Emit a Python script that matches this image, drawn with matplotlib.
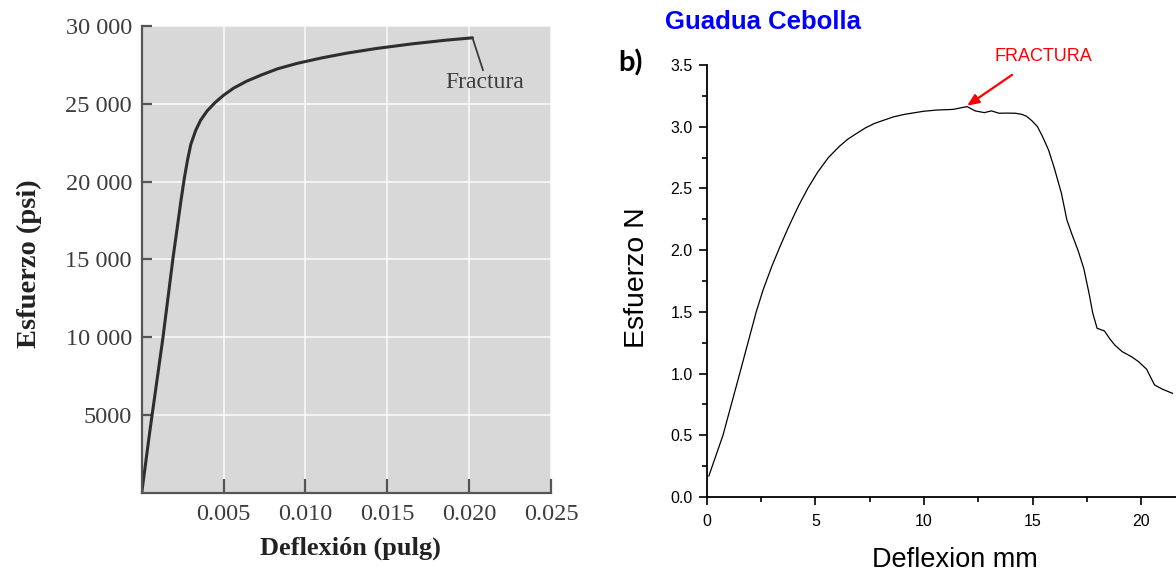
import matplotlib
matplotlib.use("Agg")
import matplotlib.pyplot as plt
from matplotlib.ticker import MultipleLocator, FixedLocator, FixedFormatter

# --- left panel: textbook stress/deflection curve ---
defl_in = [0, 0.0005, 0.0013, 0.0019, 0.0024, 0.0026, 0.0028, 0.0030, 0.0033,
           0.0036, 0.0040, 0.0045, 0.0050, 0.0056, 0.0064, 0.0073, 0.0083,
           0.0095, 0.0110, 0.0125, 0.0143, 0.0165, 0.0185, 0.0202]
stress_psi = [0, 4000, 10000, 15000, 18800, 20200, 21400, 22400, 23300,
              23950, 24550, 25100, 25550, 26000, 26450, 26850, 27250,
              27600, 27950, 28250, 28550, 28850, 29080, 29240]
left_yticks = [5000, 10000, 15000, 20000, 25000, 30000]
left_ylabels = ["5000", "10 000", "15 000", "20 000", "25 000", "30 000"]
left_xticks = [0.005, 0.010, 0.015, 0.020, 0.025]
left_xlabels = ["0.005", "0.010", "0.015", "0.020", "0.025"]

# --- right panel: Guadua Cebolla test ---
defl_mm = [0.1, 0.75, 1.52, 2.28, 2.6, 3.0, 3.4, 3.8, 4.23, 4.65, 5.1, 5.6,
           6.1, 6.5, 6.94, 7.3, 7.7, 8.1, 8.6, 9.1, 9.98, 10.6, 11.33, 11.98,
           12.35, 12.77, 13.10, 13.45, 13.8, 14.2, 14.5, 14.71, 14.95, 15.22,
           15.45, 15.73, 16.0, 16.32, 16.57, 16.8, 17.08, 17.35, 17.59, 17.76,
           17.96, 18.30, 18.55, 18.77, 19.11, 19.54, 19.87, 20.24, 20.60,
           20.97, 21.43]
force_n = [0.17, 0.50, 1.00, 1.50, 1.68, 1.87, 2.04, 2.20, 2.36, 2.50, 2.63,
           2.75, 2.84, 2.90, 2.95, 2.99, 3.025, 3.05, 3.08, 3.10, 3.125, 3.135,
           3.14, 3.163, 3.128, 3.114, 3.128, 3.109, 3.11, 3.109, 3.10, 3.085,
           3.05, 3.00, 2.92, 2.81, 2.66, 2.46, 2.245, 2.13, 2.00, 1.85, 1.65,
           1.49, 1.367, 1.345, 1.28, 1.232, 1.178, 1.137, 1.096, 1.035, 0.908,
           0.873, 0.84]
fract_point = (11.98, 3.17)

fig = plt.figure(figsize=(11.76, 5.71), dpi=100)

serif = "Liberation Serif"
sans = "Liberation Sans"

ax1 = fig.add_axes([0.1205, 0.1366, 0.3481, 0.8179])
ax1.set_facecolor("#d8d8d8")
ax1.plot(defl_in, stress_psi, color="#2e2e2e", lw=2.2, solid_capstyle="round",
         solid_joinstyle="round")
ax1.set_xlim(0, 0.025)
ax1.set_ylim(0, 30000)
ax1.xaxis.set_major_locator(FixedLocator(left_xticks))
ax1.xaxis.set_major_formatter(FixedFormatter(left_xlabels))
ax1.yaxis.set_major_locator(FixedLocator(left_yticks))
ax1.yaxis.set_major_formatter(FixedFormatter(left_ylabels))
ax1.grid(True, color="white", lw=1.3, alpha=0.75)
ax1.set_axisbelow(True)
for s in ["top", "right"]:
    ax1.spines[s].set_visible(False)
for s in ["left", "bottom"]:
    ax1.spines[s].set_color("#555555")
    ax1.spines[s].set_linewidth(1.6)
ax1.tick_params(axis="y", direction="in", length=7, width=1.6, color="#555555",
                pad=7, labelsize=17.5, labelcolor="#3c3c3c")
ax1.tick_params(axis="x", direction="in", length=10, width=1.6, color="#555555",
                pad=8, labelsize=17.5, labelcolor="#3c3c3c")
for lab in ax1.get_xticklabels() + ax1.get_yticklabels():
    lab.set_family(serif)
ax1.set_ylabel("Esfuerzo (psi)", family=serif, fontweight="bold", fontsize=20.5,
               color="#222222")
ax1.yaxis.label.set_va("center")
ax1.yaxis.set_label_coords(-0.274, 0.49)
ax1.set_xlabel("Deflexión (pulg)", family=serif, fontweight="bold", fontsize=19,
               color="#222222")
ax1.xaxis.label.set_va("center")
ax1.xaxis.set_label_coords(0.511, -0.118)
# leader line to the fracture point
ax1.plot([defl_in[-1], 0.02084], [stress_psi[-1], 27170], color="#3a3a3a", lw=1.3)
ax1.text(0.02097, 26400, "Fractura", family=serif, fontsize=17, color="#3c3c3c",
         ha="center", va="center")

ax2 = fig.add_axes([0.6009, 0.1296, 0.3991, 0.7566])
ax2.plot(defl_mm, force_n, color="black", lw=0.9)
ax2.set_xlim(0, 21.59)
ax2.set_ylim(0, 3.5)
ax2.xaxis.set_major_locator(MultipleLocator(5))
ax2.xaxis.set_minor_locator(MultipleLocator(2.5))
ax2.yaxis.set_major_locator(MultipleLocator(0.5))
ax2.yaxis.set_minor_locator(MultipleLocator(0.25))
ax2.yaxis.set_major_formatter(matplotlib.ticker.FormatStrFormatter("%.1f"))
for s in ["top", "right"]:
    ax2.spines[s].set_visible(False)
for s in ["left", "bottom"]:
    ax2.spines[s].set_linewidth(1.3)
ax2.tick_params(which="major", direction="out", length=6, width=1.2, pad=4,
                labelsize=11.5)
ax2.tick_params(which="minor", direction="out", length=3.5, width=1.2)
ax2.tick_params(axis="x", which="major", pad=6)
for lab in ax2.get_xticklabels() + ax2.get_yticklabels():
    lab.set_family(sans)
ax2.set_ylabel("Esfuerzo N", family=sans, fontsize=20.5)
ax2.yaxis.label.set_va("center")
ax2.yaxis.set_label_coords(-0.148, 0.507)
ax2.set_xlabel("Deflexion mm", family=sans, fontsize=19.5)
ax2.xaxis.label.set_va("center")
ax2.xaxis.set_label_coords(0.529, -0.146)

ax2.annotate("", xy=fract_point, xytext=(14.05, 3.42),
             arrowprops=dict(arrowstyle="-|>,head_length=0.7,head_width=0.3",
                             color="red", lw=1.6, shrinkA=0, shrinkB=0),
             annotation_clip=False)
ax2.text(15.47, 3.566, "FRACTURA", color="red", fontsize=13,
         family=sans, ha="center", va="center", clip_on=False)

fig.text(763 / 1176, 1 - 22 / 571, "Guadua Cebolla", color="#0000ff",
         fontsize=18.5, fontweight="bold", family=sans,
         ha="center", va="center")
fig.text(630 / 1176, 1 - 63 / 571, "b)", fontsize=21, fontweight="bold",
         family=["Lato", "DejaVu Sans"], ha="center", va="center")

fig.savefig("out.png", dpi=100)
